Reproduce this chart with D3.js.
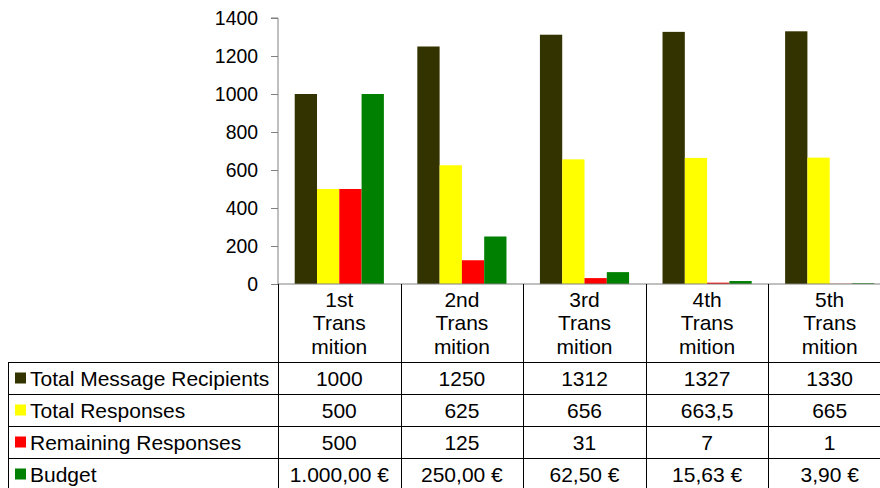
<!DOCTYPE html>
<html>
<head>
<meta charset="utf-8">
<script src="https://cdn.jsdelivr.net/npm/d3@7"></script>
<style>
  body { margin: 0; background: #fff; overflow: hidden; }
  svg { display: block; font-family: "Liberation Sans", Arial, sans-serif; }
</style>
</head>
<body>
<svg width="880" height="488"></svg>
<script>
// chart data
const categories = ["1st Trans mition", "2nd Trans mition", "3rd Trans mition", "4th Trans mition", "5th Trans mition"];
const seriesNames = ["Total Message Recipients", "Total Responses", "Remaining Responses", "Budget"];
const recipients = [1000, 1250, 1312, 1327, 1330];
const responses = [500, 625, 656, 663.5, 665];
const remaining = [500, 125, 31, 7, 1];
const budget = [1000, 250, 62.5, 15.63, 3.9];
const yTicks = [0, 200, 400, 600, 800, 1000, 1200, 1400];
const colors = ["#333300", "#ffff00", "#ff0000", "#008000"];

const series = [recipients, responses, remaining, budget];

const loc = d3.formatLocale({ decimal: ",", thousands: ".", grouping: [3], currency: ["", " €"] });
const fmts = [loc.format("d"), loc.format("~f"), loc.format("d"), loc.format("$,.2f")];

const svg = d3.select("svg");
const plotLeft = 278, plotTop = 18, plotBottom = 284;
const catWidth = 122.6;
const plotRight = plotLeft + catWidth * categories.length;

const x = d3.scaleBand().domain(d3.range(categories.length)).range([plotLeft, plotRight]).padding(0);
const xInner = d3.scaleBand().domain(d3.range(series.length)).range([0, x.bandwidth()])
  .paddingInner(0).paddingOuter(0.75);
const y = d3.scaleLinear().domain([0, 1400]).range([plotBottom, plotTop]);

// bars
const groups = svg.append("g").selectAll("g")
  .data(series)
  .enter()
  .append("g")
  .attr("fill", (d, i) => colors[i]);

groups.selectAll("rect")
  .data((d, si) => d.map((v, ci) => ({ v, ci, si })))
  .enter()
  .append("rect")
  .attr("x", d => x(d.ci) + xInner(d.si))
  .attr("y", d => y(d.v))
  .attr("width", xInner.bandwidth())
  .attr("height", d => plotBottom - y(d.v));

// y axis
const yAxis = svg.append("g")
  .attr("transform", `translate(${plotLeft},0)`)
  .call(d3.axisLeft(y).tickValues(yTicks).tickFormat(d3.format("d")).tickSize(7).tickPadding(13));
yAxis.selectAll("path, line").attr("stroke", "#808080");
yAxis.select(".domain").attr("d", `M-7,${plotTop}H0V${plotBottom}`);
yAxis.selectAll("text").attr("font-size", 19.4).attr("font-family", "Liberation Sans, Arial, sans-serif").attr("fill", "#000");

// x axis line
svg.append("line")
  .attr("x1", plotLeft).attr("x2", plotRight)
  .attr("y1", plotBottom).attr("y2", plotBottom)
  .attr("stroke", "#808080");

// data table
const rowTop = 362, rowH = 32, tableLeft = 8;
const table = svg.append("g").attr("font-size", 21).attr("fill", "#000");
const lineColor = "#000";

// header labels
categories.forEach((c, i) => {
  const t = table.append("text")
    .attr("text-anchor", "middle")
    .attr("x", x(i) + x.bandwidth() / 2)
    .attr("y", 306.5);
  c.split(" ").forEach((w, j) => {
    t.append("tspan").attr("x", x(i) + x.bandwidth() / 2).attr("dy", j ? 23.5 : 0).text(w);
  });
});

// horizontal lines
for (let r = 0; r <= series.length; r++) {
  table.append("line")
    .attr("x1", tableLeft).attr("x2", plotRight)
    .attr("y1", rowTop + r * rowH + 0.5).attr("y2", rowTop + r * rowH + 0.5)
    .attr("stroke", lineColor);
}
// vertical lines
table.append("line")
  .attr("x1", tableLeft + 0.5).attr("x2", tableLeft + 0.5)
  .attr("y1", rowTop).attr("y2", rowTop + rowH * series.length)
  .attr("stroke", lineColor);
for (let i = 0; i <= categories.length; i++) {
  const xx = Math.round(i < categories.length ? x(i) : plotRight) + 0.5;
  table.append("line")
    .attr("x1", xx).attr("x2", xx)
    .attr("y1", plotBottom).attr("y2", rowTop + rowH * series.length)
    .attr("stroke", lineColor);
}

// rows
series.forEach((s, si) => {
  const cy = rowTop + si * rowH + rowH / 2;
  table.append("rect")
    .attr("x", 15).attr("y", cy - 5.5)
    .attr("width", 11).attr("height", 11)
    .attr("fill", colors[si]);
  table.append("text")
    .attr("x", 30).attr("y", cy + 7.5)
    .text(seriesNames[si]);
  s.forEach((v, ci) => {
    table.append("text")
      .attr("text-anchor", "middle")
      .attr("x", x(ci) + x.bandwidth() / 2)
      .attr("y", cy + 7.5)
      .text(fmts[si](v));
  });
});
</script>
</body>
</html>
